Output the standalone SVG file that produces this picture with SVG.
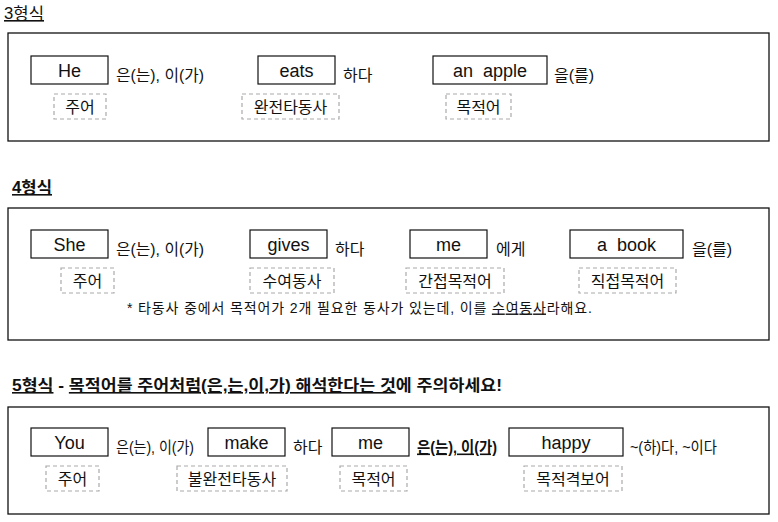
<svg xmlns="http://www.w3.org/2000/svg" width="778" height="522" viewBox="0 0 778 522">
<style>
text{font-family:"Liberation Sans","Noto Sans CJK KR",sans-serif;fill:#111}
.title{font-size:16px;font-weight:bold}
.title.plain{font-weight:normal}
.panel{fill:#fff;stroke:#111;stroke-width:1.3}
.word rect{fill:#fff;stroke:#111;stroke-width:1.2}
.word text{font-size:18px;text-anchor:middle}
.role rect{fill:none;stroke:#aaa;stroke-width:1.2;stroke-dasharray:4 3}
.role text{font-size:16px;text-anchor:middle}
.side{font-size:16px}
.side.strong{font-weight:bold}
.note{font-size:14px}
.ul{text-decoration:underline}
</style>
<rect width="778" height="522" fill="#fff"/>

<!-- Panel 1: 3형식 -->
<g id="title3"><text class="title plain ul" x="4" y="19" textLength="40" lengthAdjust="spacingAndGlyphs">3형식</text></g>
<rect class="panel" x="8" y="33" width="761" height="108"/>
<g id="p1-he" class="word"><rect x="31" y="56" width="77" height="28"/><text x="69.5" y="76.5">He</text></g>
<g id="p1-he-side"><text class="side" x="116" y="80.5" textLength="88" lengthAdjust="spacingAndGlyphs">은(는), 이(가)</text></g>
<g id="p1-subj" class="role"><rect x="54" y="94" width="52" height="25"/><text x="80" y="112.5">주어</text></g>
<g id="p1-eats" class="word"><rect x="258" y="56" width="77" height="28"/><text x="296.5" y="76.5">eats</text></g>
<g id="p1-eats-side"><text class="side" x="343" y="80.5">하다</text></g>
<g id="p1-verb" class="role"><rect x="242" y="94" width="97" height="25"/><text x="290.5" y="112.5">완전타동사</text></g>
<g id="p1-apple" class="word"><rect x="433" y="56" width="114" height="28"/><text x="490" y="76.5" xml:space="preserve">an  apple</text></g>
<g id="p1-apple-side"><text class="side" x="554" y="80.5">을(를)</text></g>
<g id="p1-obj" class="role"><rect x="446" y="94" width="65" height="25"/><text x="478.5" y="112.5">목적어</text></g>

<!-- Panel 2: 4형식 -->
<g id="title4"><text class="title ul" x="12" y="193" textLength="40" lengthAdjust="spacingAndGlyphs">4형식</text></g>
<rect class="panel" x="8" y="208" width="761" height="132"/>
<g id="p2-she" class="word"><rect x="31" y="230" width="77" height="28"/><text x="69.5" y="250.5">She</text></g>
<g id="p2-she-side"><text class="side" x="116" y="254.5" textLength="88" lengthAdjust="spacingAndGlyphs">은(는), 이(가)</text></g>
<g id="p2-subj" class="role"><rect x="61" y="268" width="53" height="25"/><text x="87.5" y="286.5">주어</text></g>
<g id="p2-gives" class="word"><rect x="250" y="230" width="77" height="28"/><text x="288.5" y="250.5">gives</text></g>
<g id="p2-gives-side"><text class="side" x="335" y="254.5">하다</text></g>
<g id="p2-verb" class="role"><rect x="250" y="268" width="84" height="25"/><text x="292" y="286.5">수여동사</text></g>
<g id="p2-me" class="word"><rect x="410" y="230" width="77" height="28"/><text x="448.5" y="250.5">me</text></g>
<g id="p2-me-side"><text class="side" x="496" y="254.5">에게</text></g>
<g id="p2-iobj" class="role"><rect x="406" y="268" width="98" height="25"/><text x="455" y="286.5">간접목적어</text></g>
<g id="p2-book" class="word"><rect x="570" y="230" width="113" height="28"/><text x="626.5" y="250.5" xml:space="preserve">a  book</text></g>
<g id="p2-book-side"><text class="side" x="692" y="254.5">을(를)</text></g>
<g id="p2-dobj" class="role"><rect x="579" y="268" width="97" height="25"/><text x="627.5" y="286.5">직접목적어</text></g>
<g id="p2-note"><text class="note" x="127" y="312.5" textLength="465" lengthAdjust="spacing">* 타동사 중에서 목적어가 2개 필요한 동사가 있는데, 이를 <tspan class="ul">수여동사</tspan>라해요.</text></g>

<!-- Panel 3: 5형식 -->
<g id="title5"><text class="title" x="12" y="391" textLength="490" lengthAdjust="spacingAndGlyphs"><tspan class="ul">5형식</tspan> - <tspan class="ul">목적어를 주어처럼(은,는,이,가) 해석한다는 것</tspan>에 주의하세요!</text></g>
<rect class="panel" x="8" y="407" width="761" height="107"/>
<g id="p3-you" class="word"><rect x="31" y="428" width="77" height="28"/><text x="69.5" y="448.5">You</text></g>
<g id="p3-you-side"><text class="side" x="116" y="452.5" textLength="78" lengthAdjust="spacingAndGlyphs">은(는), 이(가)</text></g>
<g id="p3-subj" class="role"><rect x="46" y="466" width="53" height="25"/><text x="72.5" y="484.5">주어</text></g>
<g id="p3-make" class="word"><rect x="208" y="428" width="77" height="28"/><text x="246.5" y="448.5">make</text></g>
<g id="p3-make-side"><text class="side" x="293" y="452.5">하다</text></g>
<g id="p3-verb" class="role"><rect x="177" y="466" width="110" height="25"/><text x="232" y="484.5">불완전타동사</text></g>
<g id="p3-me" class="word"><rect x="332" y="428" width="77" height="28"/><text x="370.5" y="448.5">me</text></g>
<g id="p3-me-side"><text class="side strong ul" x="417" y="452.5" textLength="80" lengthAdjust="spacingAndGlyphs">은(는), 이(가)</text></g>
<g id="p3-obj" class="role"><rect x="340" y="466" width="67" height="25"/><text x="373.5" y="484.5">목적어</text></g>
<g id="p3-happy" class="word"><rect x="509" y="428" width="114" height="28"/><text x="566" y="448.5">happy</text></g>
<g id="p3-happy-side"><text class="side" x="630" y="452.5" textLength="87" lengthAdjust="spacingAndGlyphs">~(하)다, ~이다</text></g>
<g id="p3-comp" class="role"><rect x="524" y="466" width="98" height="25"/><text x="573" y="484.5">목적격보어</text></g>
</svg>
